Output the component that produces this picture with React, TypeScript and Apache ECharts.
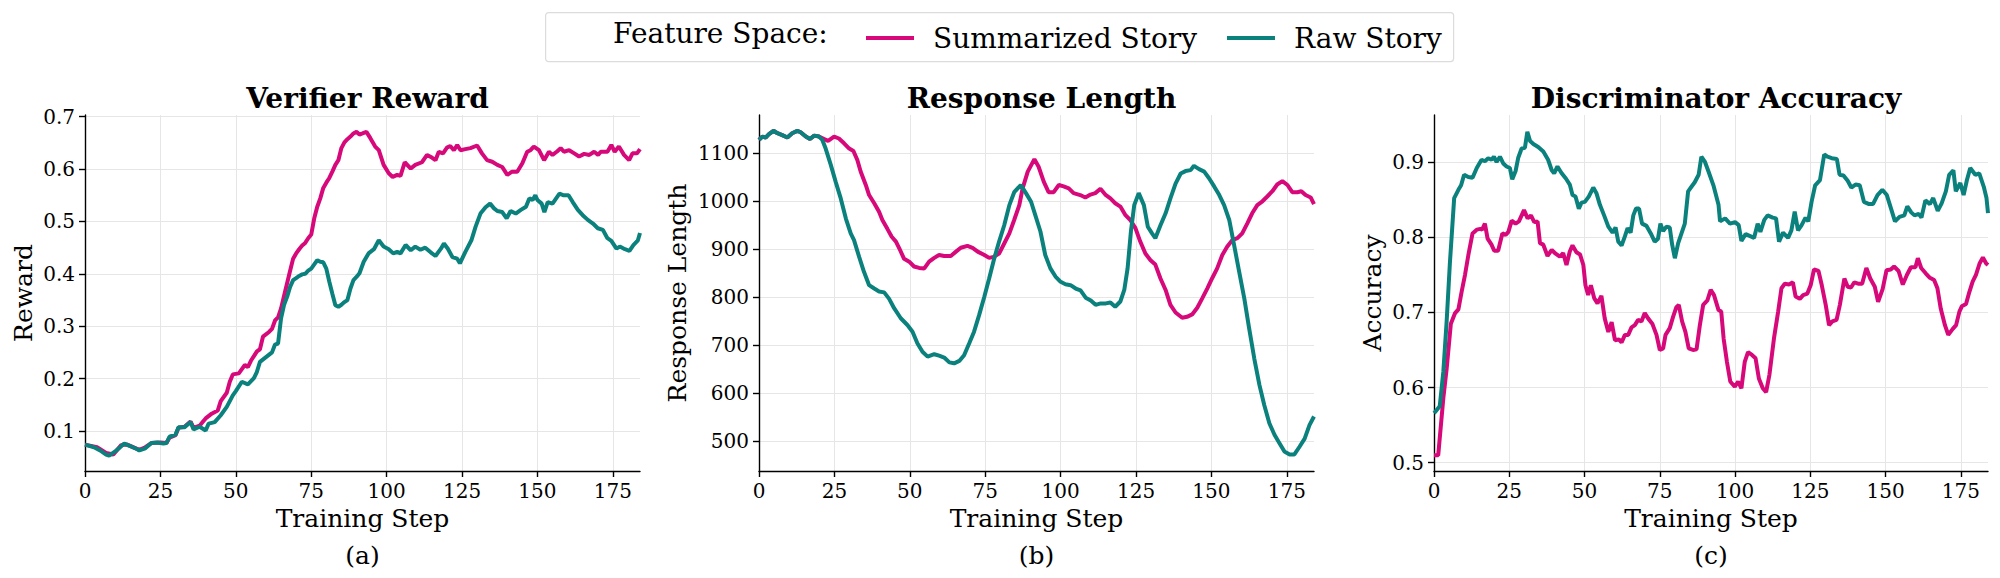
import React, { useEffect, useRef } from "react";
import * as echarts from "echarts";

// ---- tick values / labels ----
const stepTicks = [0, 25, 50, 75, 100, 125, 150, 175];
const rewardTicks = [0.1, 0.2, 0.3, 0.4, 0.5, 0.6, 0.7];
const lengthTicks = [500, 600, 700, 800, 900, 1000, 1100];
const accuracyTicks = [0.5, 0.6, 0.7, 0.8, 0.9];

const panelTitles = ["Verifier Reward", "Response Length", "Discriminator Accuracy"];
const panelYNames = ["Reward", "Response Length", "Accuracy"];
const panelCaptions = ["(a)", "(b)", "(c)"];
const seriesNames = ["Summarized Story", "Raw Story"];
const legendHeading = "Feature Space:";

// ---- series: [training step, value] ----
const rewardSummarized = [
  [0, 0.074], [4, 0.069], [7, 0.058], [9.4, 0.055], [12, 0.073], [14, 0.074], [18, 0.064], [20, 0.069],
  [22, 0.077], [25, 0.078], [27, 0.077], [28, 0.087], [30, 0.092], [31, 0.106], [33, 0.108], [35, 0.118],
  [36, 0.106], [38, 0.11], [39, 0.117], [40, 0.124], [42, 0.133], [44, 0.139], [45, 0.157], [47, 0.173],
  [48, 0.194], [49, 0.208], [51, 0.21], [52, 0.218], [53, 0.226], [54, 0.222], [55, 0.234], [57, 0.252],
  [58, 0.256], [59, 0.28], [61, 0.289], [62, 0.295], [63, 0.311], [64, 0.317], [65, 0.334], [66, 0.358],
  [67, 0.382], [68, 0.406], [69, 0.429], [70, 0.439], [71, 0.447], [72, 0.454], [73, 0.459], [74, 0.468],
  [75, 0.475], [76, 0.506], [77, 0.528], [78, 0.544], [79, 0.564], [80, 0.574], [81, 0.583], [82, 0.595],
  [83, 0.608], [84, 0.617], [85, 0.64], [86, 0.651], [87, 0.657], [88, 0.662], [89, 0.668], [90, 0.671],
  [91, 0.666], [92, 0.668], [93.3, 0.671], [94.6, 0.659], [96.2, 0.643], [97.4, 0.636], [99, 0.608],
  [100.7, 0.592], [102, 0.585], [103.5, 0.589], [104.6, 0.587], [106, 0.613], [108, 0.601], [109.5, 0.608],
  [111.7, 0.613], [113.4, 0.627], [115, 0.622], [116.2, 0.617], [117.3, 0.633], [118.7, 0.63], [120, 0.641],
  [121.1, 0.644], [122.3, 0.636], [123.4, 0.646], [124.5, 0.636], [126.1, 0.638], [127.8, 0.64], [130, 0.645],
  [131.6, 0.63], [133.3, 0.617], [135, 0.614], [136.7, 0.608], [138.3, 0.604], [140, 0.589], [141.6, 0.595],
  [143.3, 0.595], [145, 0.611], [146.6, 0.633], [147.7, 0.636], [148.8, 0.643], [150.5, 0.636], [152.2, 0.617],
  [153.8, 0.633], [155, 0.627], [156.6, 0.634], [157.7, 0.64], [158.8, 0.633], [160.5, 0.636], [162.2, 0.63],
  [163.8, 0.624], [165.5, 0.629], [167.2, 0.627], [168.8, 0.633], [170.1, 0.627], [171, 0.633], [173.2, 0.633],
  [174.5, 0.646], [175.6, 0.633], [177, 0.643], [178.7, 0.627], [180.4, 0.617], [181.5, 0.63], [183, 0.63],
  [184, 0.638],
];

const rewardRaw = [
  [0, 0.074], [3, 0.069], [5, 0.063], [7, 0.055], [8, 0.053], [10, 0.061], [12, 0.071], [13, 0.076],
  [15, 0.071], [17, 0.066], [18, 0.063], [20, 0.067], [22, 0.077], [24, 0.078], [26, 0.076], [27, 0.077],
  [28, 0.089], [30, 0.093], [31, 0.107], [33, 0.107], [35, 0.117], [36, 0.103], [38, 0.108], [40, 0.101],
  [41, 0.114], [43, 0.117], [45, 0.13], [47, 0.146], [49, 0.168], [50, 0.176], [52, 0.194], [54, 0.189],
  [56, 0.201], [57, 0.213], [58, 0.232], [60, 0.241], [62, 0.25], [63, 0.265], [64, 0.267], [65, 0.315],
  [66, 0.341], [67, 0.356], [68, 0.375], [69, 0.388], [70, 0.392], [71, 0.396], [72, 0.399], [73, 0.4],
  [74, 0.406], [75, 0.41], [76, 0.418], [77, 0.426], [78, 0.423], [79, 0.422], [80, 0.41], [81, 0.385],
  [82, 0.362], [83, 0.34], [84, 0.337], [85, 0.341], [86, 0.346], [87, 0.35], [88, 0.372], [89, 0.388],
  [90, 0.394], [91, 0.401], [92.4, 0.423], [94, 0.439], [95.8, 0.447], [97.4, 0.464], [99, 0.452],
  [100.7, 0.447], [102.2, 0.439], [103.5, 0.442], [104.6, 0.439], [106.3, 0.455], [108, 0.445], [109.5, 0.452],
  [111.2, 0.446], [112.8, 0.45], [114.6, 0.441], [116.2, 0.434], [118, 0.448], [119, 0.458], [120.3, 0.448],
  [121.8, 0.432], [123.4, 0.429], [124.3, 0.42], [126.1, 0.442], [128.1, 0.464], [129.5, 0.49], [131.1, 0.515],
  [132.8, 0.527], [134.3, 0.534], [135.6, 0.525], [136.7, 0.52], [138.3, 0.518], [139.8, 0.506], [141.1, 0.52],
  [142.8, 0.515], [144.5, 0.522], [146.2, 0.528], [147.3, 0.544], [148.4, 0.541], [149.3, 0.55], [150, 0.541],
  [151.4, 0.534], [152.3, 0.518], [153.4, 0.537], [155, 0.534], [156.2, 0.544], [157.3, 0.553], [158.7, 0.55],
  [160.3, 0.55], [161.7, 0.537], [163.4, 0.522], [165, 0.512], [166.7, 0.503], [168.4, 0.496], [170, 0.487],
  [171.7, 0.484], [173.2, 0.468], [174.5, 0.463], [176.2, 0.448], [177.3, 0.452], [179, 0.447], [180.5, 0.444],
  [181.8, 0.455], [183.3, 0.464], [184, 0.478],
];

const lengthSummarized = [
  [0, 1128], [1.1, 1135], [2.2, 1133], [3.3, 1140], [4.8, 1147], [6.1, 1142], [7.7, 1138], [9.4, 1133],
  [11, 1142], [12.7, 1147], [13.8, 1144], [15.5, 1135], [16.9, 1130], [18.3, 1137], [19.9, 1135],
  [21.6, 1130], [22.9, 1126], [24.9, 1135], [26.5, 1131], [28.2, 1121], [29.9, 1110], [31.3, 1105],
  [32.6, 1086], [33.7, 1062], [35.4, 1034], [36.5, 1013], [38.2, 996], [39.8, 978], [40.9, 961], [42.6, 942],
  [44, 926], [45.4, 916], [46.5, 902], [48.1, 880], [49.8, 874], [51.4, 864], [53.1, 861], [54.8, 860],
  [56.4, 874], [58.1, 882], [59.7, 888], [61.4, 886], [63.6, 886], [65.3, 895], [66.9, 903], [69.1, 907],
  [70.8, 903], [72.5, 895], [74.7, 888], [76.3, 882], [77.8, 884], [79.6, 891], [81.3, 912], [83, 933],
  [84.6, 961], [86.3, 992], [87.4, 1027], [89.1, 1062], [91.3, 1088], [92.7, 1072], [94.4, 1041], [96, 1019],
  [97.7, 1019], [99.4, 1034], [101, 1031], [102.7, 1027], [104.3, 1017], [106.5, 1013], [108.2, 1008],
  [109.9, 1014], [111.5, 1017], [113.2, 1026], [114.8, 1014], [116.5, 1006], [118.1, 996], [119.8, 989],
  [121.5, 971], [123.1, 961], [124.8, 944], [126.4, 916], [128.1, 891], [129.8, 877], [131.4, 868],
  [133.1, 839], [134.8, 815], [136.4, 784], [138.1, 768], [140.3, 757], [141.9, 759], [143.6, 764],
  [145.3, 778], [146.9, 797], [148.6, 818], [150.2, 839], [151.9, 860], [153.6, 888], [155.2, 905],
  [156.9, 919], [158.6, 923], [160.2, 933], [161.9, 954], [163.5, 975], [165.2, 992], [166.9, 1000],
  [168.5, 1010], [170.2, 1021], [171.8, 1035], [173.5, 1042], [175.2, 1034], [176.8, 1019], [178.5, 1019],
  [179.8, 1021], [181.2, 1013], [182.9, 1008], [184, 994],
];

const lengthRaw = [
  [0, 1128], [1.1, 1135], [2.2, 1133], [3.3, 1140], [4.8, 1147], [6.1, 1142], [7.7, 1138], [9.4, 1133],
  [11, 1142], [12.7, 1147], [13.8, 1144], [15.5, 1135], [16.9, 1130], [18.3, 1137], [19.9, 1135],
  [21, 1128], [22.1, 1110], [23.8, 1076], [25.4, 1041], [27.1, 1006], [28.8, 964], [30.4, 933], [31.5, 919],
  [33.2, 884], [34.8, 853], [36.5, 825], [38.2, 818], [39.8, 812], [41.5, 810], [43.1, 797], [44.8, 777],
  [47, 756], [49.2, 742], [50.9, 728], [52.5, 704], [54.2, 686], [55.9, 676], [58.1, 681], [59.7, 678],
  [61.4, 674], [63.1, 664], [64.7, 662], [66.4, 667], [68, 679], [69.7, 704], [71.3, 728], [73, 763],
  [74.7, 801], [76.3, 839], [78, 881], [79.6, 916], [81.3, 950], [83, 992], [84.6, 1019], [86.8, 1034],
  [88.5, 1017], [90.2, 999], [91.6, 971], [93.3, 937], [94.9, 888], [96.6, 860], [98.3, 843], [100, 832],
  [101.6, 827], [103.3, 825], [105, 818], [106.6, 814], [108.3, 799], [110, 793], [111.6, 784], [113.3, 787],
  [115, 787], [116.5, 789], [118.1, 780], [119.8, 791], [121.1, 815], [122.2, 860], [123.3, 937],
  [124.4, 992], [125.9, 1017], [127.6, 992], [128.9, 947], [130.3, 933], [131.4, 923], [133.1, 950],
  [134.8, 975], [136.4, 1006], [138.1, 1037], [139.8, 1058], [141.4, 1063], [143.1, 1065], [144.2, 1074],
  [145.9, 1067], [147.6, 1062], [149.2, 1048], [150.9, 1031], [152.6, 1013], [154.2, 992], [155.9, 961],
  [157.5, 909], [159.2, 853], [160.9, 797], [162.5, 735], [164.2, 672], [165.9, 617], [167.5, 575],
  [169.2, 537], [170.9, 513], [172.5, 496], [174.2, 478], [175.9, 472], [177.5, 472], [179.2, 488],
  [180.9, 505], [182.5, 533], [184, 551],
];

const accuracySummarized = [
  [0, 0.51], [1.4, 0.51], [3.1, 0.586], [4.2, 0.625], [5.6, 0.685], [7, 0.699], [8.1, 0.704], [9.2, 0.728],
  [10.3, 0.75], [11.4, 0.776], [12.8, 0.805], [14.2, 0.81], [15.4, 0.811], [16, 0.81], [16.9, 0.818],
  [17.8, 0.798], [19.1, 0.79], [20, 0.782], [21.3, 0.782], [22.7, 0.805], [23.8, 0.803], [24.7, 0.807],
  [25.8, 0.822], [27.1, 0.818], [28.2, 0.821], [29.9, 0.836], [31.1, 0.825], [32.2, 0.829], [33.3, 0.82],
  [34.4, 0.821], [35.2, 0.792], [36.3, 0.79], [37.7, 0.775], [39.1, 0.783], [40.4, 0.778], [41.8, 0.774],
  [42.9, 0.779], [44, 0.763], [45.1, 0.781], [46, 0.789], [47.3, 0.78], [48.5, 0.777], [49.6, 0.763],
  [50.3, 0.736], [51.2, 0.723], [52.1, 0.736], [53.2, 0.719], [54.3, 0.712], [55.6, 0.722], [56.7, 0.692],
  [57.9, 0.674], [59, 0.687], [60.1, 0.663], [61.4, 0.664], [62.3, 0.66], [63.4, 0.67], [64.5, 0.67],
  [65.6, 0.68], [66.7, 0.683], [67.8, 0.69], [68.9, 0.688], [70, 0.699], [71.1, 0.692], [72.5, 0.685],
  [73.9, 0.67], [75, 0.65], [76.1, 0.652], [76.9, 0.67], [78.3, 0.679], [79.4, 0.694], [80.5, 0.707],
  [81.3, 0.71], [82.4, 0.688], [83.5, 0.674], [84.6, 0.652], [86, 0.65], [87.2, 0.651], [88.3, 0.683],
  [89.4, 0.71], [90.8, 0.716], [91.9, 0.73], [93, 0.723], [94.5, 0.703], [95.4, 0.701], [96.2, 0.665],
  [97.3, 0.634], [98.4, 0.608], [99.9, 0.601], [101, 0.608], [102.1, 0.599], [103.2, 0.634], [104.3, 0.647],
  [105.7, 0.643], [106.8, 0.639], [107.9, 0.612], [109.2, 0.599], [110.3, 0.594], [111.4, 0.617],
  [112.9, 0.665], [114.3, 0.701], [115.4, 0.732], [116.5, 0.738], [117.9, 0.737], [119.2, 0.74],
  [120.1, 0.721], [121.5, 0.718], [122.6, 0.723], [124, 0.725], [125.1, 0.736], [126.2, 0.757],
  [127.7, 0.755], [128.8, 0.736], [130.1, 0.71], [131.2, 0.683], [132.3, 0.688], [133.7, 0.69],
  [134.8, 0.71], [136.3, 0.745], [137.4, 0.734], [138.5, 0.733], [139.6, 0.74], [141.1, 0.738],
  [142.2, 0.738], [143.6, 0.759], [144.9, 0.745], [146.4, 0.734], [147.5, 0.714], [149, 0.731],
  [150.3, 0.756], [151.7, 0.757], [152.8, 0.761], [154.3, 0.755], [155.7, 0.737], [157.1, 0.75],
  [158.4, 0.76], [159.9, 0.76], [160.7, 0.772], [161.8, 0.759], [163.3, 0.752], [164.7, 0.746],
  [166.1, 0.743], [167.2, 0.732], [168.3, 0.705], [169.7, 0.683], [170.8, 0.67], [172.3, 0.678],
  [173.4, 0.683], [174.5, 0.701], [175.3, 0.708], [176.7, 0.711], [177.8, 0.727], [178.9, 0.741],
  [180, 0.75], [181.2, 0.765], [182.3, 0.773], [183.4, 0.765], [184, 0.763],
];

const accuracyRaw = [
  [0, 0.566], [0.5, 0.568], [1.9, 0.575], [3.1, 0.621], [4.2, 0.688], [5.3, 0.767], [6.7, 0.852],
  [8.1, 0.863], [9, 0.869], [10, 0.883], [11.4, 0.88], [12.8, 0.879], [14.2, 0.892], [15.8, 0.903],
  [16.9, 0.901], [18, 0.905], [19.1, 0.903], [19.9, 0.907], [20.8, 0.9], [21.9, 0.907], [23, 0.898],
  [24.1, 0.894], [25.2, 0.892], [26, 0.877], [27.1, 0.888], [28, 0.906], [29.1, 0.918], [30.2, 0.919],
  [31, 0.94], [31.9, 0.928], [33, 0.924], [34.6, 0.92], [36.3, 0.914], [37.9, 0.903], [39.1, 0.889],
  [39.9, 0.885], [41, 0.894], [42.4, 0.885], [43.8, 0.878], [45.1, 0.87], [46, 0.856], [47, 0.854],
  [48.1, 0.838], [49, 0.846], [50.1, 0.847], [51.4, 0.854], [52.9, 0.866], [54, 0.858], [55.1, 0.843],
  [56.5, 0.829], [57.9, 0.814], [59.3, 0.806], [60.3, 0.813], [61.2, 0.794], [62.3, 0.789], [63.4, 0.801],
  [64.3, 0.812], [65.3, 0.806], [66.2, 0.829], [67.1, 0.838], [68.1, 0.838], [69.1, 0.818], [70.6, 0.815],
  [72, 0.805], [73.3, 0.794], [74.4, 0.798], [75.2, 0.818], [76.1, 0.808], [77.2, 0.814], [78.3, 0.813],
  [79.1, 0.79], [80, 0.772], [81.1, 0.792], [82.2, 0.805], [83.3, 0.818], [84.4, 0.861], [85.5, 0.867],
  [86.6, 0.873], [87.9, 0.883], [88.8, 0.907], [90, 0.9], [91.2, 0.887], [92.8, 0.869], [94.5, 0.843],
  [95, 0.821], [96.7, 0.825], [98.3, 0.818], [100, 0.82], [101.2, 0.816], [102.1, 0.795], [103.5, 0.804],
  [105.2, 0.801], [106.3, 0.799], [107.5, 0.818], [108.4, 0.807], [109.7, 0.823], [110.8, 0.829],
  [112.5, 0.826], [113.6, 0.825], [114.6, 0.794], [115.9, 0.806], [117.6, 0.799], [118.7, 0.809],
  [119.8, 0.834], [120.9, 0.809], [122.1, 0.816], [123.4, 0.826], [124.3, 0.821], [125.4, 0.847],
  [126.6, 0.869], [128.2, 0.876], [129.6, 0.91], [130.7, 0.907], [132.1, 0.905], [133.8, 0.904],
  [134.7, 0.883], [136, 0.882], [137.4, 0.875], [138.6, 0.866], [140, 0.87], [141.4, 0.869], [142.8, 0.847],
  [144.5, 0.844], [145.8, 0.844], [147.3, 0.856], [148.9, 0.863], [150.4, 0.856], [151.8, 0.838],
  [153.1, 0.821], [154.6, 0.827], [156.2, 0.829], [157.2, 0.841], [158.5, 0.833], [159.6, 0.829],
  [161, 0.831], [161.9, 0.826], [163.2, 0.849], [164.7, 0.844], [165.8, 0.852], [167.3, 0.835],
  [168.6, 0.845], [170, 0.861], [171.1, 0.883], [172.5, 0.889], [173.3, 0.861], [174.8, 0.872],
  [175.9, 0.856], [177, 0.876], [178.1, 0.892], [179.8, 0.883], [181.1, 0.885], [182.6, 0.867],
  [183.5, 0.852], [184, 0.832],
];

// ---- styling ----
const FONT = "'DejaVu Serif', 'Liberation Serif', serif";
const COLORS = ["#d6087a", "#0b817d"];
const GRID_COLOR = "#e6e6e6";

const panels = [
  { left: 85, width: 555, yMin: 0.0236, yMax: 0.7032, ticks: rewardTicks, digits: 1, nameGap: 49,
    data: [rewardSummarized, rewardRaw] },
  { left: 759, width: 555, yMin: 437.4, yMax: 1180, ticks: lengthTicks, digits: 0, nameGap: 69,
    data: [lengthSummarized, lengthRaw] },
  { left: 1434, width: 554, yMin: 0.489, yMax: 0.9625, ticks: accuracyTicks, digits: 1, nameGap: 49,
    data: [accuracySummarized, accuracyRaw] },
];
const GRID_TOP = 115;
const GRID_HEIGHT = 356;

function buildOption() {
  const axisLine = { show: true, lineStyle: { color: "#000", width: 1.4 } };
  const axisTick = (values: number[]) => ({
    show: true, length: 6, customValues: values, lineStyle: { color: "#000", width: 1.4 },
  });

  const grid = panels.map((p) => ({ left: p.left, top: GRID_TOP, width: p.width, height: GRID_HEIGHT }));

  const xAxis = panels.map((p, i) => ({
    type: "value", gridIndex: i, min: 0, max: 184,
    name: "Training Step", nameLocation: "middle", nameGap: 35,
    nameTextStyle: { fontFamily: FONT, fontSize: 25, color: "#000" },
    axisLine, axisTick: axisTick(stepTicks),
    axisLabel: {
      customValues: stepTicks, fontFamily: FONT, fontSize: 20, color: "#000", margin: 10,
      formatter: (v: number) => String(Math.round(v)),
    },
    splitLine: { show: true, lineStyle: { color: GRID_COLOR, width: 1 } },
  }));

  const yAxis = panels.map((p, i) => ({
    type: "value", gridIndex: i, min: p.yMin, max: p.yMax,
    name: panelYNames[i], nameLocation: "middle", nameGap: p.nameGap,
    nameTextStyle: { fontFamily: FONT, fontSize: 25, color: "#000" },
    axisLine, axisTick: axisTick(p.ticks),
    axisLabel: {
      customValues: p.ticks, fontFamily: FONT, fontSize: 20, color: "#000", margin: 10,
      formatter: (v: number) => v.toFixed(p.digits),
    },
    splitLine: { show: true, lineStyle: { color: GRID_COLOR, width: 1 } },
  }));

  const series: any[] = [];
  panels.forEach((p, i) => {
    p.data.forEach((d, k) => {
      series.push({
        type: "line", name: seriesNames[k], xAxisIndex: i, yAxisIndex: i, data: d,
        showSymbol: false, symbol: "none", z: 2 + k,
        lineStyle: { color: COLORS[k], width: 4 }, itemStyle: { color: COLORS[k] },
      });
    });
  });

  const title = panels.map((p, i) => ({
    text: panelTitles[i], left: p.left + p.width / 2, top: 79, textAlign: "center",
    textStyle: { fontFamily: FONT, fontSize: 28, fontWeight: "bold", color: "#000" },
  }));

  const graphic: any[] = [
    {
      type: "rect", left: 545, top: 12, z: 0,
      shape: { width: 908, height: 49, r: 3 },
      style: { fill: "#fff", stroke: "#dcdcdc", lineWidth: 1.2 },
    },
    {
      type: "text", left: 613, top: 19, z: 10,
      style: { text: legendHeading, font: `28px ${FONT}`, fill: "#000" },
    },
    ...panels.map((p, i) => ({
      type: "text", x: p.left + p.width / 2, y: 555, z: 10,
      style: { text: panelCaptions[i], font: `25px ${FONT}`, fill: "#000", align: "center", verticalAlign: "middle" },
    })),
  ];

  return {
    animation: false,
    backgroundColor: "#fff",
    title,
    legend: {
      data: seriesNames, left: 861, top: 19, icon: "rect", itemWidth: 48, itemHeight: 4, itemGap: 30,
      textStyle: { fontFamily: FONT, fontSize: 28, color: "#000", padding: [0, 0, 0, 14] },
      selectedMode: false,
    },
    grid, xAxis, yAxis, series, graphic,
  };
}

export default function App() {
  const ref = useRef<HTMLDivElement>(null);
  useEffect(() => {
    if (!ref.current) return;
    const chart = echarts.init(ref.current, undefined, { renderer: "svg" });
    chart.setOption(buildOption() as any);
    return () => chart.dispose();
  }, []);
  return (
    <div
      ref={ref}
      style={{ position: "absolute", left: 0, top: 0, width: 2000, height: 578, background: "#fff" }}
    />
  );
}
